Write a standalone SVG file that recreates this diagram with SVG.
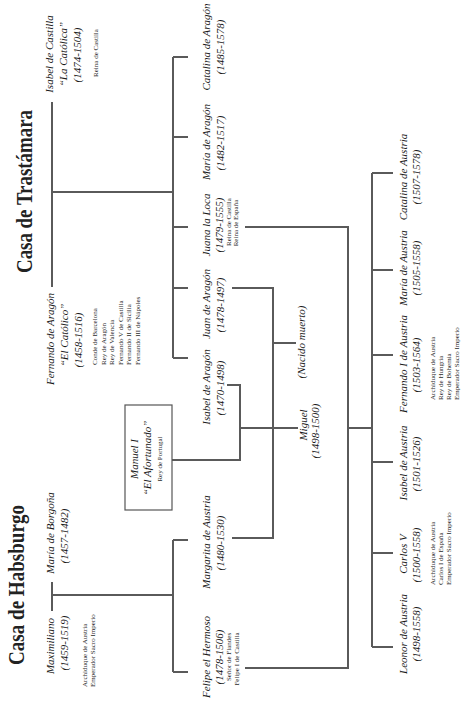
<svg xmlns="http://www.w3.org/2000/svg" width="471" height="705" viewBox="0 0 471 705">
<style>
.t{font-family:"Liberation Serif","Times New Roman",serif;font-size:24px;font-weight:bold;fill:#222}
.n{font-family:"Liberation Serif","Times New Roman",serif;font-style:italic;font-size:11px;fill:#1a1a1a;text-anchor:middle}
.s{font-family:"Liberation Serif","Times New Roman",serif;font-size:7px;fill:#2a2a2a;text-anchor:middle}
.sl{font-family:"Liberation Serif","Times New Roman",serif;font-size:7px;fill:#2a2a2a;text-anchor:start}
.ln{stroke:#5a5a5a;stroke-width:2;fill:none}
.box{stroke:#555;stroke-width:1.2;fill:#fff}
</style>
<rect width="471" height="705" fill="#fff"/>
<g id="titles">
<text class="t" transform="translate(32,273) rotate(-90)" textLength="163" lengthAdjust="spacingAndGlyphs">Casa de Trastámara</text>
<text class="t" transform="translate(24,665) rotate(-90)" textLength="160" lengthAdjust="spacingAndGlyphs">Casa de Habsburgo</text>
</g>
<g id="connectors" class="ln">
<path d="M52,102V287M52,192H173"/>
<path d="M173,57V358M173,57H188M173,137H188M173,227H188M173,288H188M173,358H188"/>
<path d="M52,582V611M52,595H173"/>
<path d="M173,540V672M173,540H188M173,672H188"/>
<path d="M232,288H273V538H232M273,343H296"/>
<path d="M227,385H240V460H172M240,428H298"/>
<path d="M245,227H348V668H245M348,428H372"/>
<path d="M372,173V647M372,173H393M372,270H393M372,355H393M372,462H393M372,553H393M372,647H393"/>
</g>
<g id="isabel-castilla">
<text class="n" transform="translate(53,54) rotate(-90)">Isabel de Castilla</text>
<text class="n" transform="translate(67,54) rotate(-90)">“La Católica”</text>
<text class="n" transform="translate(81,55) rotate(-90)">(1474-1504)</text>
<text class="s" transform="translate(98,53) rotate(-90)">Reina de Castilla</text>
</g>
<g id="fernando-aragon">
<text class="n" transform="translate(54,339) rotate(-90)">Fernando de Aragón</text>
<text class="n" transform="translate(68,335) rotate(-90)">“El Católico”</text>
<text class="n" transform="translate(82,340) rotate(-90)">(1458-1516)</text>
<text class="sl" transform="translate(97,365) rotate(-90)">Conde de Barcelona</text>
<text class="sl" transform="translate(105.5,365) rotate(-90)">Rey de Aragón</text>
<text class="sl" transform="translate(114,365) rotate(-90)">Rey de Valencia</text>
<text class="sl" transform="translate(122.5,365) rotate(-90)">Fernando V de Castilla</text>
<text class="sl" transform="translate(131,365) rotate(-90)">Fernando II de Sicilia</text>
<text class="sl" transform="translate(139.5,365) rotate(-90)">Fernando III de Nápoles</text>
</g>
<g id="maximiliano">
<text class="n" transform="translate(54,646) rotate(-90)">Maximiliano</text>
<text class="n" transform="translate(68,643) rotate(-90)">(1459-1519)</text>
<text class="sl" transform="translate(87,687) rotate(-90)">Archiduque de Austria</text>
<text class="sl" transform="translate(95,687) rotate(-90)">Emperador Sacro Imperio</text>
</g>
<g id="maria-borgona">
<text class="n" transform="translate(54,533) rotate(-90)">María de Borgoña</text>
<text class="n" transform="translate(68,536) rotate(-90)">(1457-1482)</text>
</g>
<g id="manuel">
<rect class="box" x="125" y="405" width="47" height="105"/>
<text class="n" transform="translate(138,459) rotate(-90)">Manuel I</text>
<text class="n" transform="translate(151,458) rotate(-90)">“El Afortunado”</text>
<text class="s" transform="translate(162,459) rotate(-90)">Rey de Portugal</text>
</g>
<g id="catalina-aragon">
<text class="n" transform="translate(210,47) rotate(-90)">Catalina de Aragón</text>
<text class="n" transform="translate(224,47) rotate(-90)">(1485-1578)</text>
</g>
<g id="maria-aragon">
<text class="n" transform="translate(210,142) rotate(-90)">María de Aragón</text>
<text class="n" transform="translate(224,143) rotate(-90)">(1482-1517)</text>
</g>
<g id="juana">
<text class="n" transform="translate(210,225) rotate(-90)">Juana la Loca</text>
<text class="n" transform="translate(223,225) rotate(-90)">(1479-1555)</text>
<text class="s" transform="translate(231,222) rotate(-90)">Reina de Castilla</text>
<text class="s" transform="translate(238,223) rotate(-90)">Reina de España</text>
</g>
<g id="juan-aragon">
<text class="n" transform="translate(210,304) rotate(-90)">Juan de Aragón</text>
<text class="n" transform="translate(224,305) rotate(-90)">(1478-1497)</text>
</g>
<g id="isabel-aragon">
<text class="n" transform="translate(210,387) rotate(-90)">Isabel de Aragón</text>
<text class="n" transform="translate(224,388) rotate(-90)">(1470-1498)</text>
</g>
<g id="margarita">
<text class="n" transform="translate(210,542) rotate(-90)">Margarita de Austria</text>
<text class="n" transform="translate(224,543) rotate(-90)">(1480-1530)</text>
</g>
<g id="felipe">
<text class="n" transform="translate(210,657) rotate(-90)">Felipe el Hermoso</text>
<text class="n" transform="translate(223,657) rotate(-90)">(1478-1506)</text>
<text class="s" transform="translate(231,657) rotate(-90)">Señor de Flandes</text>
<text class="s" transform="translate(239,659) rotate(-90)">Felipe I de Castilla</text>
</g>
<g id="nacido-muerto">
<text class="n" transform="translate(305,342) rotate(-90)">(Nacido muerto)</text>
</g>
<g id="miguel">
<text class="n" transform="translate(307,425) rotate(-90)">Miguel</text>
<text class="n" transform="translate(319,431) rotate(-90)">(1498-1500)</text>
</g>
<g id="catalina-austria">
<text class="n" transform="translate(407,177) rotate(-90)">Catalina de Austria</text>
<text class="n" transform="translate(420,177) rotate(-90)">(1507-1578)</text>
</g>
<g id="maria-austria">
<text class="n" transform="translate(407,268) rotate(-90)">María de Austria</text>
<text class="n" transform="translate(420,268) rotate(-90)">(1505-1558)</text>
</g>
<g id="fernando-austria">
<text class="n" transform="translate(407,364) rotate(-90)">Fernando I de Austria</text>
<text class="n" transform="translate(420,365) rotate(-90)">(1503-1564)</text>
<text class="sl" transform="translate(435,400) rotate(-90)">Archiduque de Austria</text>
<text class="sl" transform="translate(443,400) rotate(-90)">Rey de Hungría</text>
<text class="sl" transform="translate(451,400) rotate(-90)">Rey de Bohemia</text>
<text class="sl" transform="translate(459,400) rotate(-90)">Emperador Sacro Imperio</text>
</g>
<g id="isabel-austria">
<text class="n" transform="translate(407,463) rotate(-90)">Isabel de Austria</text>
<text class="n" transform="translate(420,464) rotate(-90)">(1501-1526)</text>
</g>
<g id="carlos">
<text class="n" transform="translate(407,554) rotate(-90)">Carlos V</text>
<text class="n" transform="translate(420,555) rotate(-90)">(1500-1558)</text>
<text class="sl" transform="translate(435,585) rotate(-90)">Archiduque de Austria</text>
<text class="sl" transform="translate(443,585) rotate(-90)">Carlos I de España</text>
<text class="sl" transform="translate(451,585) rotate(-90)">Emperador Sacro Imperio</text>
</g>
<g id="leonor">
<text class="n" transform="translate(407,634) rotate(-90)">Leonor de Austria</text>
<text class="n" transform="translate(420,634) rotate(-90)">(1498-1558)</text>
</g>
</svg>
